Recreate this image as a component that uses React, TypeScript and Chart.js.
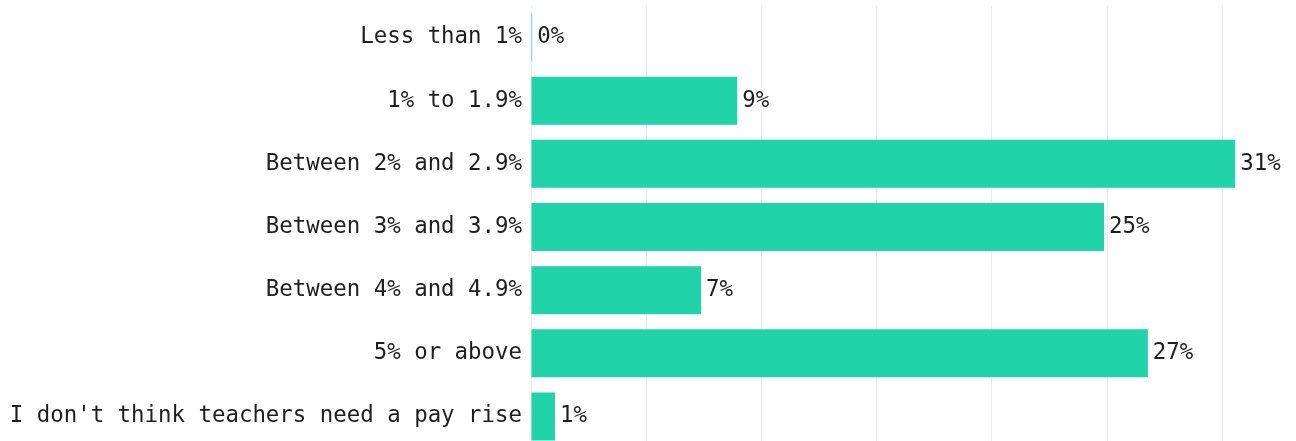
import React, { useEffect, useRef } from "react";
import { Chart, registerables } from "chart.js";

Chart.register(...registerables);

const categories = [
  "Less than 1%",
  "1% to 1.9%",
  "Between 2% and 2.9%",
  "Between 3% and 3.9%",
  "Between 4% and 4.9%",
  "5% or above",
  "I don't think teachers need a pay rise",
];
const values = [0.05, 8.95, 30.56, 24.87, 7.38, 26.77, 1.04];
const xMax = 33.2;
const xStep = 5;

const FONT = "'DejaVu Sans Mono', 'Liberation Mono', monospace";

const labelPlugin = {
  id: "barLabels",
  afterDatasetsDraw(chart: any) {
    const ctx = chart.ctx;
    const meta = chart.getDatasetMeta(0);
    ctx.save();
    ctx.font = `22.4px ${FONT}`;
    ctx.fillStyle = "#1e1e1e";
    ctx.textAlign = "left";
    ctx.textBaseline = "middle";
    meta.data.forEach((bar: any, i: number) => {
      const v = values[i];
      ctx.fillText(Math.round(v) + "%", bar.x + 5, bar.y);
    });
    ctx.restore();
  },
};

export default function App() {
  const ref = useRef<HTMLCanvasElement | null>(null);
  useEffect(() => {
    document.body.style.margin = "0";
    const chart = new Chart(ref.current!, {
      type: "bar",
      data: {
        labels: categories,
        datasets: [
          {
            data: values,
            backgroundColor: "#20d3a9",
            borderWidth: 0,
            categoryPercentage: 0.8,
            barPercentage: 0.95,
          },
        ],
      },
      options: {
        indexAxis: "y",
        animation: false,
        responsive: false,
        layout: { padding: { top: 6, bottom: 0, left: 0, right: 0 } },
        plugins: { legend: { display: false }, tooltip: { enabled: false } },
        scales: {
          x: {
            min: 0,
            max: xMax,
            ticks: { display: false, stepSize: xStep },
            grid: { color: "#ececec", drawTicks: false },
            border: { display: false },
            afterFit: (s: any) => {
              s.height = 0;
              s.paddingLeft = 0;
              s.paddingRight = 0;
            },
          },
          y: {
            ticks: {
              color: "#1e1e1e",
              font: { family: FONT, size: 22.4 },
              padding: 9,
              autoSkip: false,
            },
            grid: { display: false, drawTicks: false },
            border: { display: false },
            afterFit: (s: any) => {
              s.width = 531;
              s.paddingTop = 0;
              s.paddingBottom = 0;
            },
          },
        },
      },
      plugins: [labelPlugin],
    });
    return () => chart.destroy();
  }, []);
  return (
    <div style={{ position: "absolute", left: 0, top: 0 }}>
      <canvas ref={ref} width={1296} height={448} style={{ display: "block" }} />
    </div>
  );
}
